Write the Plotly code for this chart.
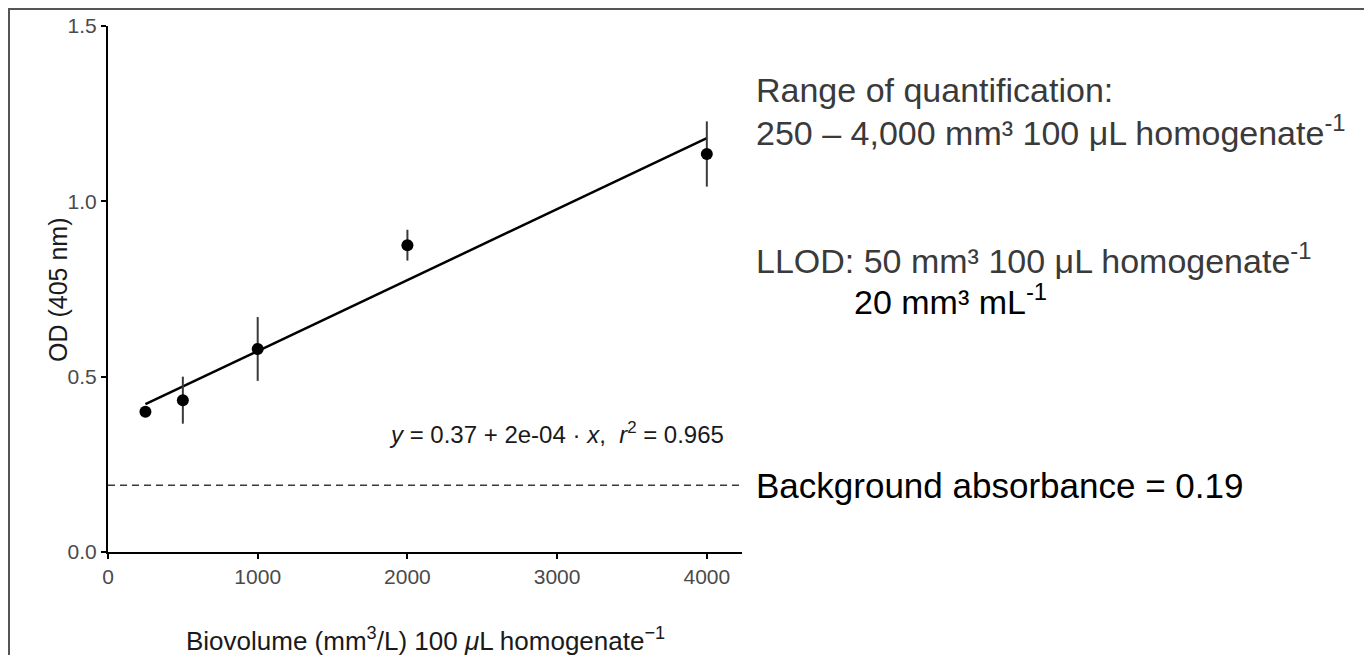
import numpy as np
import plotly.graph_objects as go

# ---- data ----
biovolume = [250, 500, 1000, 2000, 4000]
od_mean = [0.400, 0.433, 0.579, 0.875, 1.135]
od_err = [0.008, 0.067, 0.091, 0.044, 0.093]
background = 0.19
x_ticks = [0, 1000, 2000, 3000, 4000]
y_ticks = [0.0, 0.5, 1.0, 1.5]

# linear fit through the points
slope, intercept = np.polyfit(biovolume, od_mean, 1)
fit_x = [min(biovolume), max(biovolume)]
fit_y = [intercept + slope * v for v in fit_x]

# page has an 8px body margin -> work in figure coordinates (screen - 8)
OFF = 8
W, H = 1372 - OFF, 655 - OFF
L, R, T, B = 108 - OFF, 742 - OFF, 26 - OFF, 552 - OFF
XMAX = 4235

def px(xs):
    return (xs - OFF - L) / (R - L)

def py(ys):
    return (B - (ys - OFF)) / (B - T)

TICK_SIZE = 21

fig = go.Figure()
fig.add_trace(go.Scatter(x=fit_x, y=fit_y, mode="lines",
                         line=dict(color="black", width=2.5), hoverinfo="skip"))
fig.add_trace(go.Scatter(x=biovolume, y=od_mean, mode="markers",
                         marker=dict(color="black", size=12),
                         error_y=dict(type="data", array=od_err, width=0,
                                      thickness=2, color="#3a3a3a")))

font_main = "Liberation Sans, Arial, Helvetica, sans-serif"

fig.update_layout(
    width=W, height=H,
    margin=dict(l=L, r=W - R, t=T, b=H - B, autoexpand=False),
    paper_bgcolor="white", plot_bgcolor="white",
    showlegend=False,
    font=dict(family=font_main, color="black", size=TICK_SIZE),
)
fig.update_xaxes(range=[0, XMAX], tickmode="array", tickvals=x_ticks,
                 ticktext=[str(v) for v in x_ticks],
                 showline=True, linecolor="black", linewidth=2, ticks="outside",
                 ticklen=5, tickwidth=1.5, tickcolor="black", showgrid=False, zeroline=False,
                 tickfont_size=TICK_SIZE, tickfont_color="#4a4a4a",
                 tickfont_family=font_main, automargin=False)
fig.update_yaxes(range=[0, 1.5], tickmode="array", tickvals=y_ticks,
                 ticktext=["%.1f" % v for v in y_ticks],
                 showline=True, linecolor="black", linewidth=2, ticks="outside",
                 ticklen=5, tickwidth=1.5, tickcolor="black", showgrid=False, zeroline=False,
                 tickfont_size=TICK_SIZE, tickfont_color="#4a4a4a",
                 tickfont_family=font_main, automargin=False)

# axis titles
fig.add_annotation(xref="paper", yref="paper", x=0.5, y=py(639), xanchor="center", yanchor="middle",
                   text="Biovolume (mm<sup>3</sup>/L) 100 <i>μ</i>L homogenate<sup>−1</sup>",
                   showarrow=False, font=dict(size=26, color="#1a1a1a"))
fig.add_annotation(xref="paper", yref="paper", x=px(58), y=py(290), xanchor="center", yanchor="middle",
                   text="OD (405 nm)", textangle=-90,
                   showarrow=False, font=dict(size=25, color="#1a1a1a"))

# background dashed line
fig.add_shape(type="line", xref="paper", yref="y", x0=0, x1=1, y0=background, y1=background,
              line=dict(color="#3a3a3a", width=1.5, dash="7px,5px"))

# outer frame
fig.add_shape(type="rect", xref="paper", yref="paper",
              x0=px(9), x1=px(1371), y0=py(720), y1=py(9),
              line=dict(color="#555555", width=2), fillcolor="rgba(0,0,0,0)")

# equation
fig.add_annotation(xref="paper", yref="paper", x=px(726), y=py(433), xanchor="right", yanchor="middle",
                   text="<i>y</i> = 0.37 + 2e-04 · <i>x</i>,  <i>r</i><sup>2</sup> = 0.965",
                   showarrow=False, font=dict(size=24, color="#1a1a1a"))

light = "#3a3a3a"
fig.add_annotation(xref="paper", yref="paper", x=px(754), y=py(90), xanchor="left", yanchor="middle",
                   text="Range of quantification:", showarrow=False,
                   font=dict(size=34, color=light))
fig.add_annotation(xref="paper", yref="paper", x=px(754), y=py(131), xanchor="left", yanchor="middle",
                   text="250 – 4,000 mm³ 100 μL homogenate<sup>-1</sup>", showarrow=False,
                   font=dict(size=34, color=light))
fig.add_annotation(xref="paper", yref="paper", x=px(754), y=py(259), xanchor="left", yanchor="middle",
                   text="LLOD: 50 mm³ 100 μL homogenate<sup>-1</sup>", showarrow=False,
                   font=dict(size=34, color=light))
fig.add_annotation(xref="paper", yref="paper", x=px(852), y=py(299), xanchor="left", yanchor="middle",
                   text="20 mm³ mL<sup>-1</sup>", showarrow=False,
                   font=dict(size=34, color="black"))
fig.add_annotation(xref="paper", yref="y", x=px(754), y=background, xanchor="left", yanchor="middle",
                   text="Background absorbance = 0.19", showarrow=False,
                   font=dict(size=35, color="black"))

fig.write_html("out.html")
